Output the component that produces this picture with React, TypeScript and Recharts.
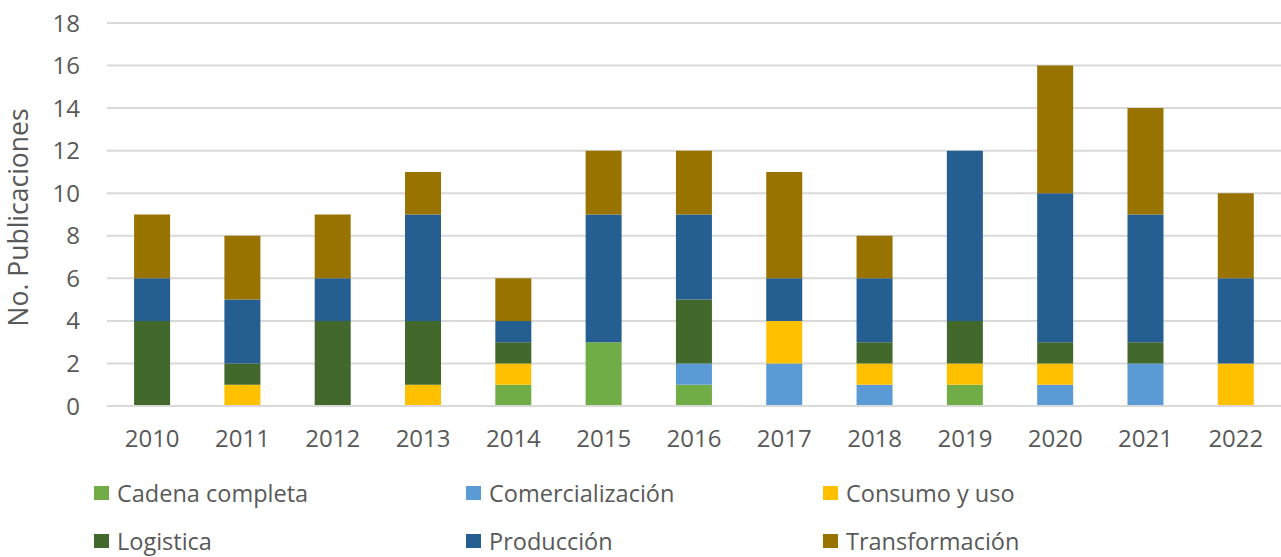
import React from 'react';
import { BarChart, Bar, XAxis, YAxis, CartesianGrid } from 'recharts';

const years = ['2010', '2011', '2012', '2013', '2014', '2015', '2016', '2017', '2018', '2019', '2020', '2021', '2022'];

const cadenaCompleta = [0, 0, 0, 0, 1, 3, 1, 0, 0, 1, 0, 0, 0];
const comercializacion = [0, 0, 0, 0, 0, 0, 1, 2, 1, 0, 1, 2, 0];
const consumoUso = [0, 1, 0, 1, 1, 0, 0, 2, 1, 1, 1, 0, 2];
const logistica = [4, 1, 4, 3, 1, 0, 3, 0, 1, 2, 1, 1, 0];
const produccion = [2, 3, 2, 5, 1, 6, 4, 2, 3, 8, 7, 6, 4];
const transformacion = [3, 3, 3, 2, 2, 3, 3, 5, 2, 0, 6, 5, 4];

const yTicks = [0, 2, 4, 6, 8, 10, 12, 14, 16, 18];

const series = [
  { key: 'cadena', name: 'Cadena completa', color: '#70AD47', values: cadenaCompleta },
  { key: 'comercial', name: 'Comercialización', color: '#5B9BD5', values: comercializacion },
  { key: 'consumo', name: 'Consumo y uso', color: '#FFC000', values: consumoUso },
  { key: 'logistica', name: 'Logistica', color: '#43682B', values: logistica },
  { key: 'produccion', name: 'Producción', color: '#255E91', values: produccion },
  { key: 'transformacion', name: 'Transformación', color: '#997300', values: transformacion },
];

const data = years.map((year, i) => {
  const row: Record<string, string | number> = { year };
  series.forEach((s) => {
    row[s.key] = s.values[i];
  });
  return row;
});

const FONT = '"Open Sans", sans-serif';
const TEXT = '#595959';

// legend: x of each column's square, y centre of each row
const legendCols = [94, 466, 823];
const legendRows = [493, 541];

const ChartLegend = () => (
  <>
    {series.map((s, i) => {
      const col = i % 3;
      const row = Math.floor(i / 3);
      return (
        <div
          key={s.key}
          style={{
            position: 'absolute',
            left: legendCols[col],
            top: legendRows[row] - 16,
            height: 32,
            display: 'flex',
            alignItems: 'center',
            fontFamily: FONT,
            fontSize: 23.5,
            color: TEXT,
            whiteSpace: 'nowrap',
          }}
        >
          <span style={{ display: 'inline-block', width: 15, height: 14, background: s.color, marginRight: 8 }} />
          {s.name}
        </div>
      );
    })}
  </>
);

export default function App() {
  return (
    <div style={{ position: 'absolute', left: 0, top: 0, width: 1281, height: 557, background: '#fff' }}>
      <BarChart
        width={1281}
        height={557}
        data={data}
        margin={{ top: 23, right: 0, left: 27, bottom: 91 }}
        barCategoryGap="30%"
      >
        <CartesianGrid vertical={false} stroke="#d9d9d9" strokeWidth={2} />
        <XAxis
          dataKey="year"
          axisLine={{ stroke: '#d9d9d9', strokeWidth: 2 }}
          tickLine={false}
          tickSize={0}
          tickMargin={24}
          interval={0}
          height={60}
          tick={{ fill: TEXT, fontSize: 24, fontFamily: FONT }}
        />
        <YAxis
          width={80}
          domain={[0, 18]}
          ticks={yTicks}
          interval={0}
          axisLine={false}
          tickLine={false}
          tickSize={0}
          tickMargin={27}
          tick={{ fill: TEXT, fontSize: 24, fontFamily: FONT }}
          label={{
            value: 'No. Publicaciones',
            angle: -90,
            position: 'insideLeft',
            dx: -13,
            dy: 112,
            style: { fill: TEXT, fontSize: 26.5, fontFamily: FONT },
          }}
        />
        {series.map((s) => (
          <Bar key={s.key} dataKey={s.key} name={s.name} stackId="a" fill={s.color} isAnimationActive={false} />
        ))}
      </BarChart>
      <ChartLegend />
    </div>
  );
}
